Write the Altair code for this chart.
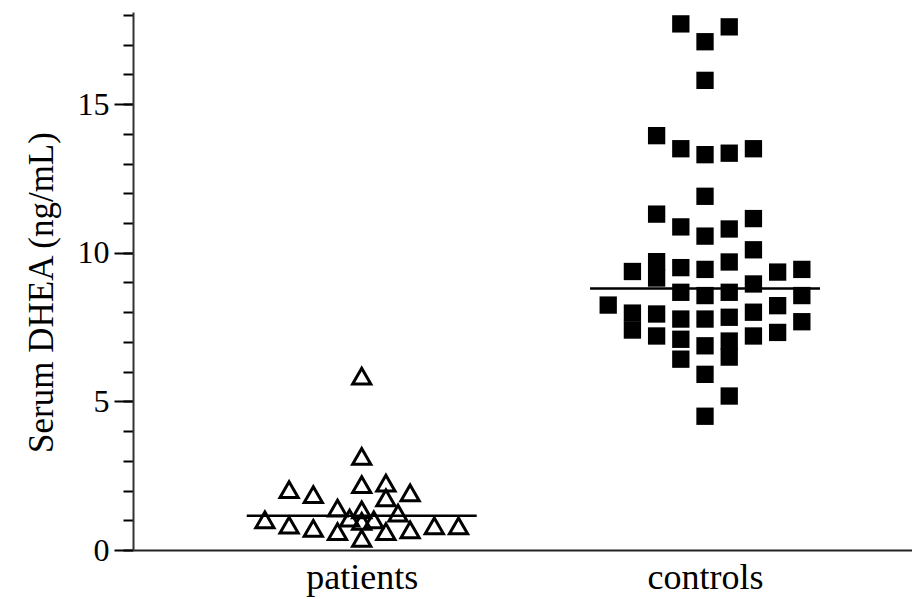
import altair as alt
import pandas as pd

# ---- data ----
groups = ["patients", "controls"]
group_index = [1, 2]

# patients (open triangles): value and dot-plot column slot
patients_values = [1.01,
                   2.03, 0.84,
                   1.86, 0.73,
                   1.41, 0.62,
                   1.07,
                   5.85, 3.15, 2.20, 1.35, 0.96, 0.39,
                   1.01,
                   2.25, 1.75, 0.62,
                   1.24,
                   1.92, 0.68,
                   0.81,
                   0.81]
patients_cols = [-4,
                 -3, -3,
                 -2, -2,
                 -1, -1,
                 -0.5,
                 0, 0, 0, 0, 0, 0,
                 0.5,
                 1, 1, 1,
                 1.5,
                 2, 2,
                 3,
                 4]

# controls (filled squares)
controls_values = [8.24,
                   9.37, 7.97, 7.40,
                   13.94, 11.30, 9.70, 9.15, 7.94, 7.20,
                   17.70, 13.50, 10.87, 9.50, 8.67, 7.77, 7.09, 6.42,
                   17.10, 15.80, 13.30, 11.90, 10.56, 9.44, 8.56, 7.77, 6.87, 5.91, 4.50,
                   17.60, 13.35, 10.80, 9.69, 8.67, 7.83, 7.03, 6.49, 5.18,
                   13.50, 11.15, 10.10, 8.95, 8.00, 7.20,
                   9.35, 8.22, 7.32,
                   9.44, 8.56, 7.68]
controls_cols = [-4,
                 -3, -3, -3,
                 -2, -2, -2, -2, -2, -2,
                 -1, -1, -1, -1, -1, -1, -1, -1,
                 0, 0, 0, 0, 0, 0, 0, 0, 0, 0, 0,
                 1, 1, 1, 1, 1, 1, 1, 1, 1,
                 2, 2, 2, 2, 2, 2,
                 3, 3, 3,
                 4, 4, 4]

median_values = [1.15, 8.80]
median_half_cols = 4.75

y_ticks_major = [0, 5, 10, 15]
y_ticks_minor = list(range(0, 19))

COL_STEP = 0.0705

rows = []
for v, c in zip(patients_values, patients_cols):
    rows.append({"group": "patients", "gi": 1, "col": c, "v": v})
for v, c in zip(controls_values, controls_cols):
    rows.append({"group": "controls", "gi": 2, "col": c, "v": v})
df = pd.DataFrame(rows)
med = pd.DataFrame({"group": groups, "gi": group_index, "v": median_values,
                    "hw": [median_half_cols] * 2})

FONT = "Liberation Serif"
xscale = alt.Scale(domain=[0.3338, 2.6029], nice=False, zero=False)
yscale = alt.Scale(domain=[0, 18.1], nice=False, zero=False)

x_axis = alt.Axis(values=group_index,
                  labelExpr="datum.value == 1 ? 'patients' : 'controls'",
                  ticks=False, grid=False, title=None,
                  domainColor="#222222", domainWidth=2,
                  labelFont=FONT, labelFontSize=36, labelColor="black",
                  labelPadding=10, labelFlush=False, labelOverlap=False)

y_axis_major = alt.Axis(values=y_ticks_major, format="d", grid=False,
                        tickSize=19, tickWidth=2, tickColor="black",
                        domainColor="#333333", domainWidth=2,
                        labelFont=FONT, labelFontSize=32, labelColor="black",
                        labelPadding=5,
                        title="Serum DHEA (ng/mL)", titleFont=FONT,
                        titleFontSize=35, titleFontWeight="normal",
                        titleColor="black", titleAngle=270,
                        titleX=-92, titleY=280, titleAlign="center",
                        titleBaseline="middle", orient="left")

y_axis_minor = alt.Axis(values=y_ticks_minor, grid=False, labels=False,
                        domain=False, title=None, tickSize=10, tickWidth=2,
                        tickColor="black", orient="left")

base = alt.Chart(df).transform_calculate(xp=f"datum.gi + datum.col * {COL_STEP}")

triangles = base.transform_filter("datum.group == 'patients'").mark_point(
    shape="triangle-up", size=330, filled=False, stroke="black", strokeWidth=3,
    opacity=1
).encode(
    x=alt.X("xp:Q", scale=xscale, axis=x_axis),
    y=alt.Y("v:Q", scale=yscale, axis=y_axis_major),
)

squares = base.transform_filter("datum.group == 'controls'").mark_point(
    shape="square", size=300, filled=True, fill="black", stroke=None, opacity=1
).encode(
    x=alt.X("xp:Q", scale=xscale, axis=x_axis),
    y=alt.Y("v:Q", scale=yscale, axis=None),
)

medians = alt.Chart(med).transform_calculate(
    x1=f"datum.gi - datum.hw * {COL_STEP}",
    x2=f"datum.gi + datum.hw * {COL_STEP}",
).mark_rule(color="black", strokeWidth=2.5).encode(
    x=alt.X("x1:Q", scale=xscale, axis=x_axis),
    x2="x2:Q",
    y=alt.Y("v:Q", scale=yscale, axis=y_axis_minor),
)

chart = alt.layer(medians, triangles, squares).resolve_axis(
    y="independent"
).properties(
    width=779, height=538,
    autosize=alt.AutoSizeParams(type="none"),
    padding={"left": 125, "top": 4, "right": 0, "bottom": 49},
    background="white",
).configure_view(stroke=None)

chart.save("out.html", embed_options={"renderer": "svg", "actions": False})
